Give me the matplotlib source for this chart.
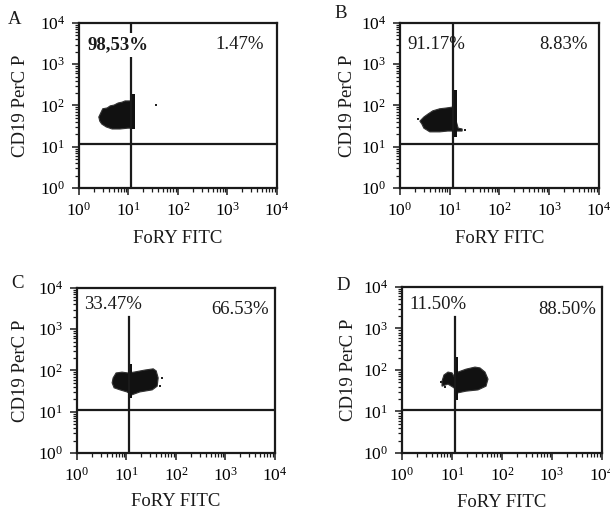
import numpy as np
import matplotlib
matplotlib.use("Agg")
import matplotlib.pyplot as plt
from matplotlib.ticker import LogLocator, LogFormatterMathtext, NullFormatter

plt.rcParams['font.family'] = ['Liberation Serif', 'DejaVu Serif']
plt.rcParams['mathtext.fontset'] = 'custom'
plt.rcParams['mathtext.rm'] = 'Liberation Serif'
plt.rcParams['mathtext.it'] = 'Liberation Serif:italic'
plt.rcParams['mathtext.bf'] = 'Liberation Serif:bold'

# ---- data (all coordinates in log10 decades) ----
panel_labels = ["A", "B", "C", "D"]
left_pct = ["98,53%", "91.17%", "33.47%", "11.50%"]
right_pct = ["1.47%", "8.83%", "66.53%", "88.50%"]
left_pct_pos = [(0.79, 3.47), (0.74, 3.47), (0.73, 3.59), (0.72, 3.57)]
right_pct_pos = [(3.25, 3.47), (3.28, 3.47), (3.29, 3.47), (3.30, 3.45)]
gate_x = [1.06, 1.07, 1.05, 1.06]
gate_y = [1.07, 1.06, 1.04, 1.04]
gate_x_top = [4.0, 4.0, 3.30, 3.28]

blob_A_x = [0.40, 0.44, 0.48, 0.57, 0.63, 0.71, 0.79, 0.87, 0.93, 1.03, 1.05,
            1.05, 0.99, 0.83, 0.67, 0.55, 0.46, 0.42]
blob_A_y = [1.72, 1.82, 1.92, 1.94, 1.99, 2.01, 2.06, 2.08, 2.11, 2.11, 2.11,
            1.45, 1.45, 1.43, 1.43, 1.48, 1.55, 1.62]
blob_B_x = [0.40, 0.48, 0.56, 0.66, 0.80, 0.94, 1.05, 1.17, 1.25, 1.25, 1.13,
            0.96, 0.80, 0.60, 0.48, 0.44]
blob_B_y = [1.62, 1.72, 1.79, 1.87, 1.92, 1.94, 1.96, 1.45, 1.43, 1.38, 1.38,
            1.38, 1.36, 1.36, 1.45, 1.55]
blob_C_x = [0.71, 0.73, 0.79, 0.91, 1.03, 1.15, 1.37, 1.54, 1.60, 1.64, 1.62,
            1.52, 1.27, 1.11, 1.01, 0.87, 0.75]
blob_C_y = [1.70, 1.82, 1.94, 1.96, 1.94, 1.96, 2.01, 2.04, 1.99, 1.82, 1.62,
            1.53, 1.48, 1.41, 1.48, 1.53, 1.58]
blob_D_x = [0.80, 0.84, 0.92, 1.00, 1.06, 1.12, 1.28, 1.46, 1.56, 1.66, 1.72,
            1.68, 1.52, 1.28, 1.12, 1.04, 0.92, 0.80]
blob_D_y = [1.73, 1.88, 1.95, 1.93, 1.81, 1.95, 2.02, 2.07, 2.05, 1.95, 1.78,
            1.61, 1.52, 1.49, 1.45, 1.57, 1.66, 1.61]
blobs_x = [blob_A_x, blob_B_x, blob_C_x, blob_D_x]
blobs_y = [blob_A_y, blob_B_y, blob_C_y, blob_D_y]

# dense strip of events piled on the vertical gate: (x0, x1, y0, y1)
strips = [(1.05, 1.13, 1.44, 2.28), (1.06, 1.14, 1.24, 2.38),
          (1.03, 1.11, 1.33, 2.16), (1.05, 1.12, 1.28, 2.31)]
# isolated events
dots_x = [[1.56], [0.36, 1.30], [1.72, 1.68], [0.78, 0.86]]
dots_y = [[2.00], [1.66, 1.40], [1.82, 1.62], [1.70, 1.58]]

label_pos = [(15, 19), (341, 14), (18, 283), (343, 285)]
axes_rects = [[0.1295, 0.6357, 0.3246, 0.3198],
              [0.6557, 0.6357, 0.3262, 0.3198],
              [0.1262, 0.1221, 0.3246, 0.3198],
              [0.6590, 0.1221, 0.3279, 0.3217]]
ylabel_x = [-0.25, -0.22, -0.24, -0.225]
xlabel_y = [-0.255, -0.255, -0.245, -0.245]

W, H = 610, 516
fig = plt.figure(figsize=(W / 100, H / 100), dpi=100)

for i in range(4):
    ax = fig.add_axes(axes_rects[i])
    ax.set_xscale('log')
    ax.set_yscale('log')
    ax.set_xlim(1, 1e4)
    ax.set_ylim(1, 1e4)
    for s in ax.spines.values():
        s.set_linewidth(1.6)
        s.set_color('#1a1a1a')
    for axis in (ax.xaxis, ax.yaxis):
        axis.set_major_locator(LogLocator(base=10, numticks=10))
        axis.set_minor_locator(LogLocator(base=10, subs=np.arange(2, 10), numticks=20))
        axis.set_major_formatter(LogFormatterMathtext())
        axis.set_minor_formatter(NullFormatter())
    ax.tick_params(which='major', direction='out', length=5, width=1.1,
                   labelsize=12.5, top=False, right=False, color='#1a1a1a')
    ax.tick_params(which='minor', direction='out', length=3, width=0.9,
                   top=False, right=False, color='#1a1a1a')
    ax.tick_params(axis='x', which='major', pad=5)
    ax.tick_params(axis='y', which='major', pad=5)

    # gates
    ax.plot([10 ** gate_x[i]] * 2, [1, 10 ** gate_x_top[i]], color='#1a1a1a', lw=1.6)
    ax.plot([1, 1e4], [10 ** gate_y[i]] * 2, color='#1a1a1a', lw=1.6)

    # events
    bx = 10 ** np.array(blobs_x[i])
    by = 10 ** np.array(blobs_y[i])
    ax.fill(bx, by, color='#111111', lw=0.8, edgecolor='#333333')
    x0, x1, y0, y1 = strips[i]
    ax.fill(10 ** np.array([x0, x1, x1, x0]), 10 ** np.array([y0, y0, y1, y1]),
            color='#111111', lw=0)
    ax.scatter(10 ** np.array(dots_x[i]), 10 ** np.array(dots_y[i]), s=4,
               color='#222222', marker='s', lw=0)

    lx, ly = left_pct_pos[i]
    kw = {}
    if i == 0:
        kw = dict(fontweight='bold',
                  bbox=dict(facecolor='white', edgecolor='none', pad=2.5))
    ax.text(10 ** lx, 10 ** ly, left_pct[i], ha='center', va='center', fontsize=13.5,
            color='#1a1a1a', zorder=5, **kw)
    rx, ry = right_pct_pos[i]
    ax.text(10 ** rx, 10 ** ry, right_pct[i], ha='center', va='center', fontsize=13.5,
            color='#1a1a1a')

    ax.set_xlabel("FoRY FITC", fontsize=13.5, color='#1a1a1a')
    ax.set_ylabel("CD19 PerC P", fontsize=13.5, color='#1a1a1a')
    ax.xaxis.set_label_coords(0.5, xlabel_y[i])
    ax.yaxis.set_label_coords(ylabel_x[i], 0.5)

    px, py = label_pos[i]
    fig.text(px / W, 1 - py / H, panel_labels[i], ha='center', va='center',
             fontsize=13.5, color='#1a1a1a')

fig.savefig("out.png", dpi=100)
